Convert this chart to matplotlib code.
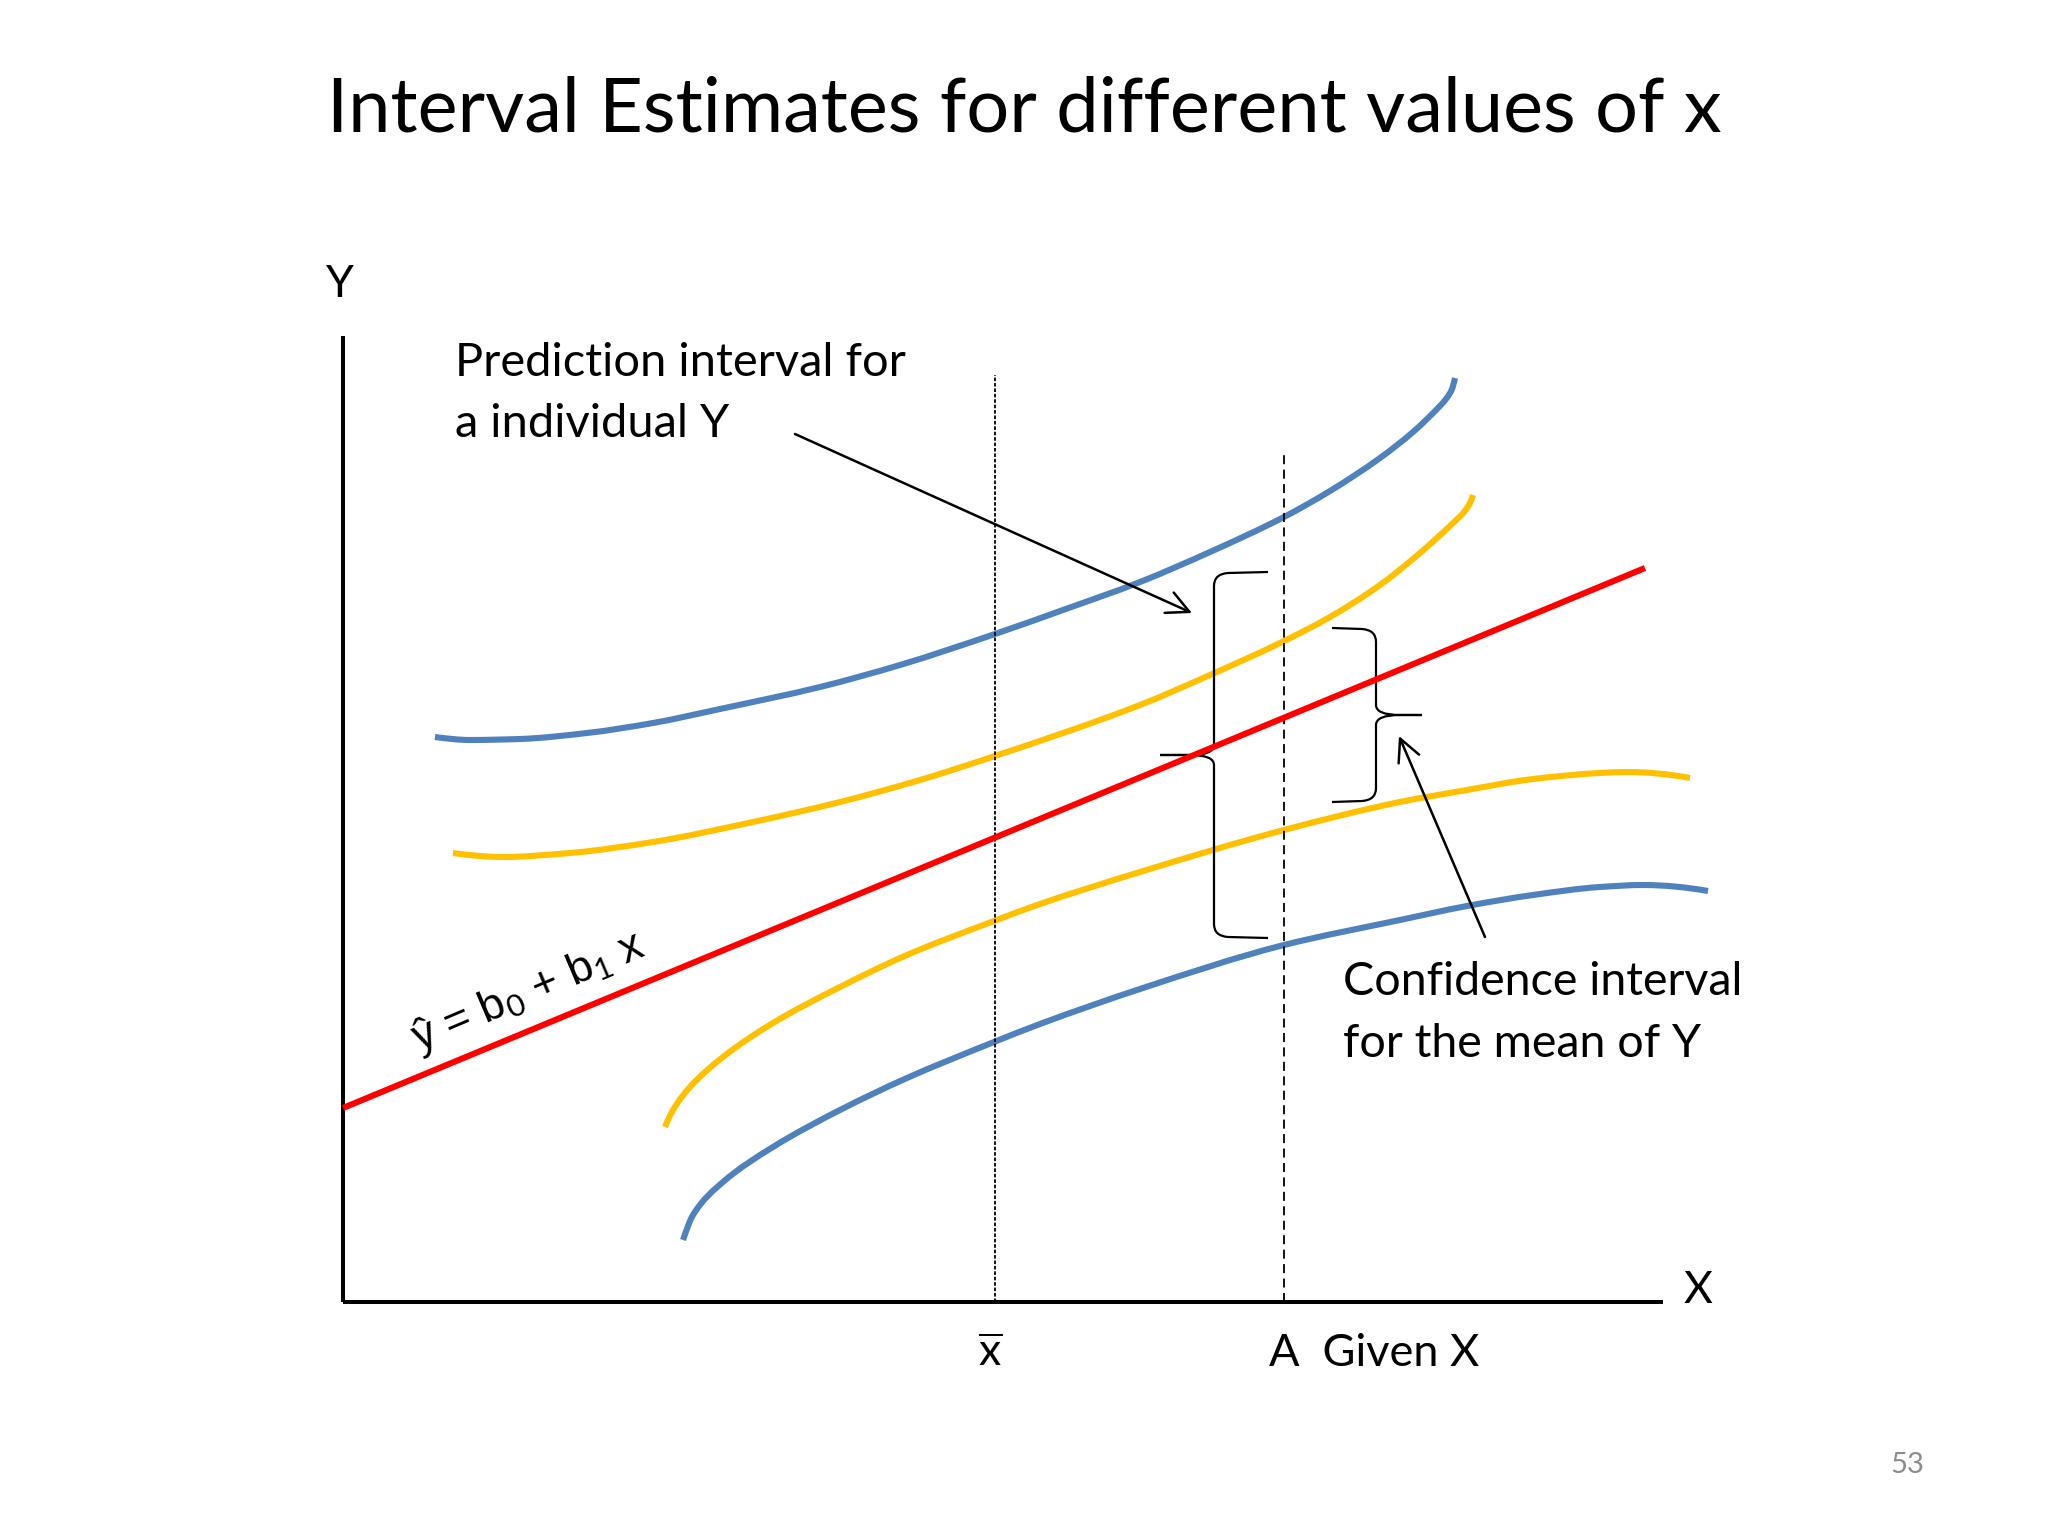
import numpy as np
import matplotlib.pyplot as plt
from matplotlib.path import Path
from matplotlib.patches import PathPatch

plt.rcParams['mathtext.fontset'] = 'custom'
plt.rcParams['mathtext.rm'] = 'Lato'
plt.rcParams['mathtext.it'] = 'Lato:italic'

# Data (chart units: x from the Y axis, y up from the X axis)
pred_upper_x = [92, 127, 177, 244, 310, 377, 477, 557, 652, 720, 797, 867, 941, 987, 1037, 1070, 1094, 1103, 1109, 1112]
pred_upper_y = [565, 562, 563, 569, 579, 593, 615, 637, 668, 692, 720, 750, 785, 811, 844, 870, 893, 903, 913, 924]

conf_upper_x = [110, 160, 227, 310, 410, 497, 577, 652, 797, 867, 937, 987, 1037, 1077, 1110, 1121, 1127, 1130]
conf_upper_y = [449, 445, 449, 460, 480, 500, 522, 546, 597, 627, 659, 685, 717, 749, 779, 790, 799, 807]

conf_lower_x = [322, 330, 347, 380, 430, 497, 564, 651, 697, 797, 941, 1057, 1124, 1190, 1257, 1284, 1347]
conf_lower_y = [175, 192, 215, 245, 279, 315, 347, 381, 398, 430, 472, 500, 512, 523, 529, 530, 524]

pred_lower_x = [340, 350, 380, 430, 497, 564, 651, 697, 797, 941, 1057, 1124, 1190, 1257, 1300, 1365]
pred_lower_y = [62, 87, 120, 155, 192, 224, 260, 278, 313, 357, 382, 396, 407, 415, 417, 411]

reg_x = [0, 1302]
reg_y = [194, 734]

x_axis_end = 1320
y_axis_end = 966
x_bar = 652
x_bar_top = 927
x_given = 941
x_given_top = 851

# braces: vertical x, top, bottom, tip x, cusp x, cusp y
pred_brace = (871, 730, 364, 925, 817, 547)
conf_brace = (1033, 674, 500, 989, 1079, 587)

blue = '#4F81BD'
gold = '#FFC000'
red = '#FF0000'

fig = plt.figure(figsize=(20.48, 15.36), dpi=100)
ax = fig.add_axes([0, 0, 1, 1])
ax.set_xlim(-343, 1705)
ax.set_ylim(-234, 1302)
ax.axis('off')

# axes of the sketch
ax.plot([0, 0], [0, y_axis_end], color='black', lw=2.9, solid_capstyle='butt')
ax.plot([0, x_axis_end], [0, 0], color='black', lw=2.9, solid_capstyle='butt')

# vertical guide lines
ax.plot([x_bar, x_bar], [0, x_bar_top], color='black', lw=1.3, linestyle=(0, (2, 1)))
ax.plot([x_given, x_given], [0, x_given_top], color='black', lw=1.3, linestyle=(0, (5, 3)))


def smooth_curve(xs, ys, color):
    # smooth bezier path through the points (monotone hermite tangents)
    x = np.asarray(xs, float)
    y = np.asarray(ys, float)
    h = np.diff(x)
    d = np.diff(y) / h
    m = np.zeros_like(x)
    for k in range(1, len(x) - 1):
        if d[k - 1] * d[k] > 0:
            w1 = 2 * h[k] + h[k - 1]
            w2 = h[k] + 2 * h[k - 1]
            m[k] = (w1 + w2) / (w1 / d[k - 1] + w2 / d[k])
    m[0] = ((2 * h[0] + h[1]) * d[0] - h[0] * d[1]) / (h[0] + h[1])
    m[-1] = ((2 * h[-1] + h[-2]) * d[-1] - h[-1] * d[-2]) / (h[-1] + h[-2])
    verts = [(x[0], y[0])]
    codes = [Path.MOVETO]
    for i in range(len(x) - 1):
        t = h[i] / 3
        verts += [(x[i] + t, y[i] + t * m[i]), (x[i + 1] - t, y[i + 1] - t * m[i + 1]),
                  (x[i + 1], y[i + 1])]
        codes += [Path.CURVE4] * 3
    ax.add_patch(PathPatch(Path(verts, codes), fill=False, lw=4.4, edgecolor=color,
                           capstyle='butt', joinstyle='round'))


# bands and regression line
smooth_curve(pred_upper_x, pred_upper_y, blue)
smooth_curve(pred_lower_x, pred_lower_y, blue)
smooth_curve(conf_upper_x, conf_upper_y, gold)
smooth_curve(conf_lower_x, conf_lower_y, gold)
ax.plot(reg_x, reg_y, color=red, lw=4.4, solid_capstyle='butt')


def brace(xv, top, bottom, tip_x, cusp_x, cusp_y):
    d = 1 if tip_x > xv else -1
    c = -d
    verts = [(tip_x, top), (xv + d * 14, top - 1),
             (xv, top - 2), (xv, top - 14),
             (xv, cusp_y + 10),
             (xv, cusp_y), (xv + c * 24, cusp_y),
             (cusp_x, cusp_y),
             (xv + c * 24, cusp_y),
             (xv, cusp_y), (xv, cusp_y - 10),
             (xv, bottom + 14),
             (xv, bottom + 2), (xv + d * 14, bottom + 1),
             (tip_x, bottom)]
    codes = [Path.MOVETO, Path.LINETO,
             Path.CURVE3, Path.CURVE3,
             Path.LINETO,
             Path.CURVE3, Path.CURVE3,
             Path.LINETO,
             Path.LINETO,
             Path.CURVE3, Path.CURVE3,
             Path.LINETO,
             Path.CURVE3, Path.CURVE3,
             Path.LINETO]
    ax.add_patch(PathPatch(Path(verts, codes), fill=False, lw=1.6, edgecolor='black'))


brace(*pred_brace)
brace(*conf_brace)

# arrows
ax.annotate('', xy=(849, 689), xytext=(452, 868),
            arrowprops=dict(arrowstyle='->', lw=1.8, color='black', mutation_scale=40,
                            shrinkA=0, shrinkB=0))
ax.annotate('', xy=(1056, 566), xytext=(1142, 365),
            arrowprops=dict(arrowstyle='->', lw=1.8, color='black', mutation_scale=40,
                            shrinkA=0, shrinkB=0))

# texts
font = 'Lato'
ax.text(681, 1171, 'Interval Estimates for different values of x', fontsize=54.5,
        family=font, ha='center', va='baseline')
ax.text(-3, 1005, 'Y', fontsize=32, family=font, ha='center', va='baseline')
ax.text(1355, -1, 'X', fontsize=32, family=font, ha='center', va='baseline')
ax.text(112, 926, 'Prediction interval for', fontsize=33.8, family=font, ha='left', va='baseline')
ax.text(112, 865, 'a individual Y', fontsize=33.8, family=font, ha='left', va='baseline')
ax.text(1000, 307, 'Confidence interval', fontsize=33.6, family=font, ha='left', va='baseline')
ax.text(1000, 245, 'for the mean of Y', fontsize=33.6, family=font, ha='left', va='baseline')
ax.text(647, -64, r'$\overline{\mathrm{x}}$', fontsize=32, family=font, ha='center', va='baseline')
ax.text(926, -64, 'A  Given X', fontsize=32.5, family=font, ha='left', va='baseline')
ax.text(1564, -171, '53', fontsize=21, family=font, color='#8C8C8C', ha='center', va='baseline')
ax.text(186, 309, 'ŷ = b$_0$ + b$_1$ x', fontsize=32, family='Liberation Sans',
        rotation=23, rotation_mode='anchor', ha='center', va='center')

fig.savefig('out.png', dpi=100, facecolor='white')
